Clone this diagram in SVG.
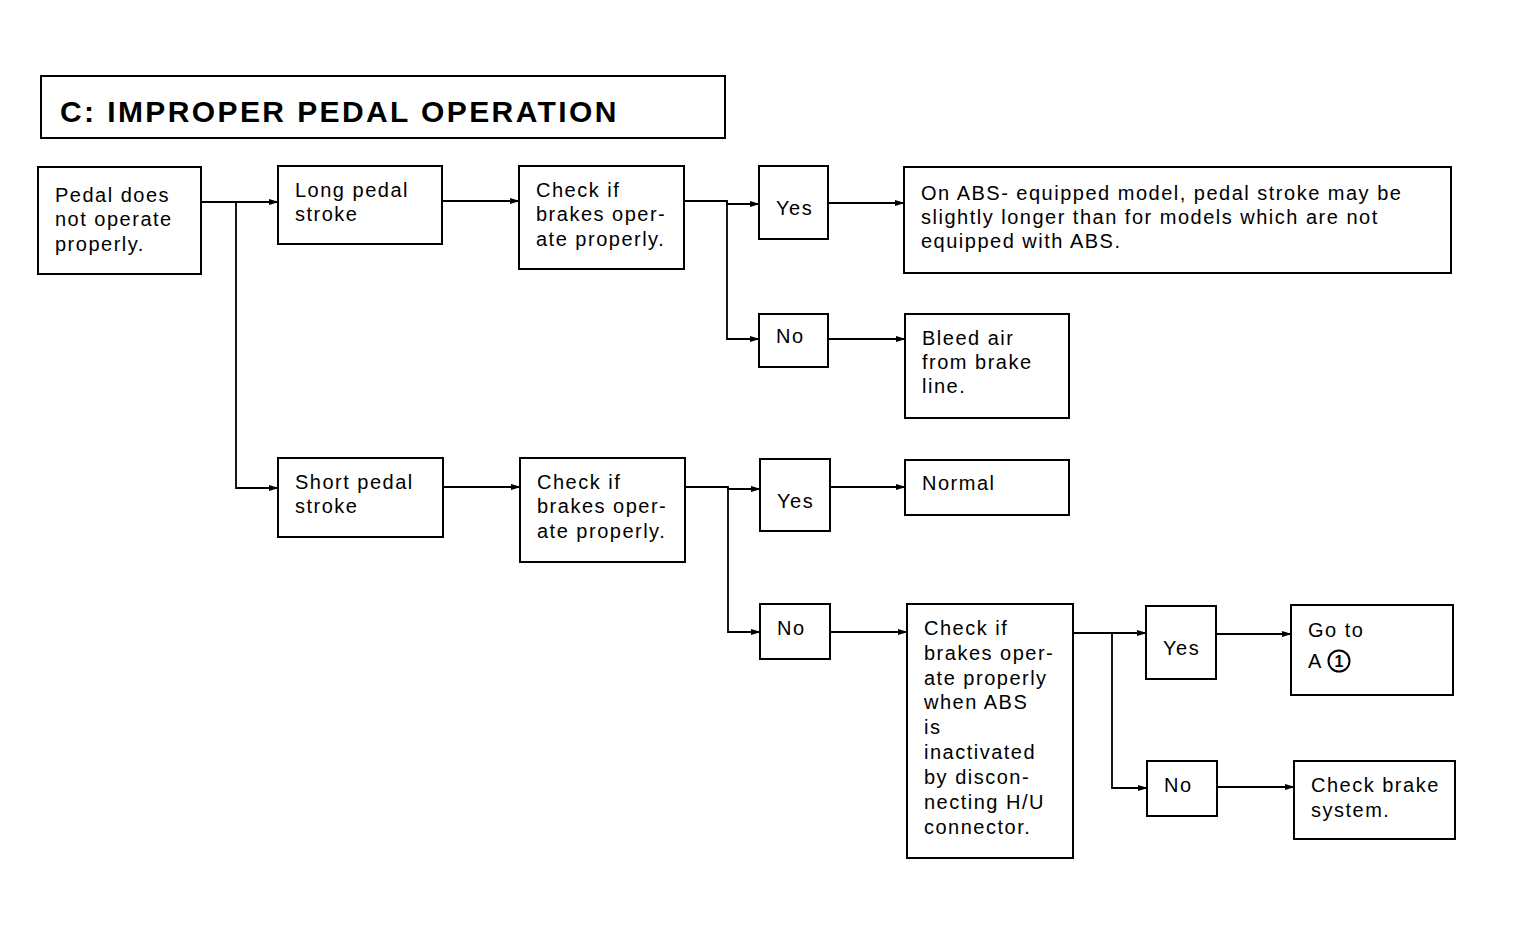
<svg xmlns="http://www.w3.org/2000/svg" width="1516" height="935" viewBox="0 0 1516 935">
<style>
.b{fill:#fff;stroke:#000;stroke-width:2}
.t{font-family:"Liberation Sans",Arial,sans-serif;font-size:20px;letter-spacing:1.5px;fill:#000}
.c{fill:none;stroke:#000;stroke-width:1.8}
</style>
<defs><marker id="a" markerWidth="10" markerHeight="6" refX="9" refY="3" orient="auto" markerUnits="userSpaceOnUse"><path d="M0,0 L10,3 L0,6 Z" fill="#000"/></marker></defs>
<rect width="1516" height="935" fill="#fff"/>
<g id="title"><rect class="b" x="41" y="76" width="684" height="62"/><text x="60" y="122" style="font-family:'Liberation Sans',Arial,sans-serif;font-size:30px;font-weight:bold;letter-spacing:2.4px">C:  IMPROPER PEDAL OPERATION</text></g>
<g id="connectors">
<path class="c" d="M201,202 H278" marker-end="url(#a)"/>
<path class="c" d="M236,202 V488 H278" marker-end="url(#a)"/>
<path class="c" d="M442,201 H519" marker-end="url(#a)"/>
<path class="c" d="M684,201 H727 V204 H759" marker-end="url(#a)"/>
<path class="c" d="M727,201 V339 H759" marker-end="url(#a)"/>
<path class="c" d="M828,203 H904" marker-end="url(#a)"/>
<path class="c" d="M828,339 H905" marker-end="url(#a)"/>
<path class="c" d="M443,487 H520" marker-end="url(#a)"/>
<path class="c" d="M685,487 H728 V489 H760" marker-end="url(#a)"/>
<path class="c" d="M728,487 V632 H760" marker-end="url(#a)"/>
<path class="c" d="M830,487 H905" marker-end="url(#a)"/>
<path class="c" d="M830,632 H907" marker-end="url(#a)"/>
<path class="c" d="M1073,633 H1146" marker-end="url(#a)"/>
<path class="c" d="M1112,633 V788 H1147" marker-end="url(#a)"/>
<path class="c" d="M1216,634 H1291" marker-end="url(#a)"/>
<path class="c" d="M1217,787 H1294" marker-end="url(#a)"/>
</g>
<g id="n1"><rect class="b" x="38" y="167" width="163" height="107"/><text class="t" x="55" y="202">Pedal does</text><text class="t" x="55" y="226">not operate</text><text class="t" x="55" y="251">properly.</text></g>
<g id="n2"><rect class="b" x="278" y="166" width="164" height="78"/><text class="t" x="295" y="197">Long pedal</text><text class="t" x="295" y="221">stroke</text></g>
<g id="n3"><rect class="b" x="519" y="166" width="165" height="103"/><text class="t" x="536" y="197">Check if</text><text class="t" x="536" y="221">brakes oper-</text><text class="t" x="536" y="246">ate properly.</text></g>
<g id="n4"><rect class="b" x="759" y="166" width="69" height="73"/><text class="t" x="776" y="215">Yes</text></g>
<g id="n5"><rect class="b" x="904" y="167" width="547" height="106"/><text class="t" x="921" y="200">On ABS- equipped model, pedal stroke may be</text><text class="t" x="921" y="224">slightly longer than for models which are not</text><text class="t" x="921" y="248">equipped with ABS.</text></g>
<g id="n6"><rect class="b" x="759" y="314" width="69" height="53"/><text class="t" x="776" y="343">No</text></g>
<g id="n7"><rect class="b" x="905" y="314" width="164" height="104"/><text class="t" x="922" y="345">Bleed air</text><text class="t" x="922" y="369">from brake</text><text class="t" x="922" y="393">line.</text></g>
<g id="n8"><rect class="b" x="278" y="458" width="165" height="79"/><text class="t" x="295" y="489">Short pedal</text><text class="t" x="295" y="513">stroke</text></g>
<g id="n9"><rect class="b" x="520" y="458" width="165" height="104"/><text class="t" x="537" y="489">Check if</text><text class="t" x="537" y="513">brakes oper-</text><text class="t" x="537" y="538">ate properly.</text></g>
<g id="n10"><rect class="b" x="760" y="459" width="70" height="72"/><text class="t" x="777" y="508">Yes</text></g>
<g id="n11"><rect class="b" x="905" y="460" width="164" height="55"/><text class="t" x="922" y="490">Normal</text></g>
<g id="n12"><rect class="b" x="760" y="604" width="70" height="55"/><text class="t" x="777" y="635">No</text></g>
<g id="n13"><rect class="b" x="907" y="604" width="166" height="254"/><text class="t" x="924" y="635">Check if</text><text class="t" x="924" y="660">brakes oper-</text><text class="t" x="924" y="685">ate properly</text><text class="t" x="924" y="709">when ABS</text><text class="t" x="924" y="734">is</text><text class="t" x="924" y="759">inactivated</text><text class="t" x="924" y="784">by discon-</text><text class="t" x="924" y="809">necting H/U</text><text class="t" x="924" y="834">connector.</text></g>
<g id="n14"><rect class="b" x="1146" y="606" width="70" height="73"/><text class="t" x="1163" y="655">Yes</text></g>
<g id="n15"><rect class="b" x="1291" y="605" width="162" height="90"/><text class="t" x="1308" y="637">Go to</text><text class="t" x="1308" y="668">A</text><circle cx="1339" cy="661" r="10.5" fill="none" stroke="#000" stroke-width="2"/><text x="1339" y="667" text-anchor="middle" style="font-family:'Liberation Sans',Arial,sans-serif;font-size:16px;font-weight:bold">1</text></g>
<g id="n16"><rect class="b" x="1147" y="761" width="70" height="55"/><text class="t" x="1164" y="792">No</text></g>
<g id="n17"><rect class="b" x="1294" y="761" width="161" height="78"/><text class="t" x="1311" y="792">Check brake</text><text class="t" x="1311" y="817">system.</text></g>
</svg>
